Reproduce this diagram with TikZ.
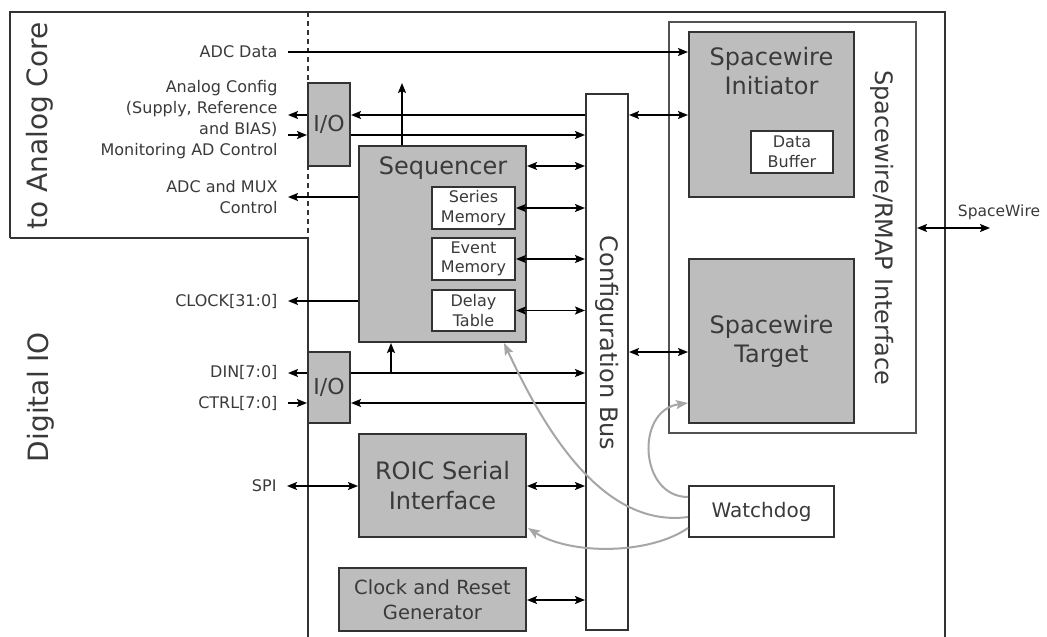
\documentclass[tikz,border=0pt]{standalone}
\usepackage{fontspec}
\setmainfont{DejaVu Sans}
\usetikzlibrary{arrows.meta}
\newcommand\myfs[2]{\fontsize{#1}{#2}\selectfont}
\definecolor{txt}{HTML}{3A3A3A}
\definecolor{bord}{HTML}{333333}
\definecolor{boxfill}{HTML}{BDBDBD}
\definecolor{curve}{HTML}{A6A6A6}
\begin{document}
\begin{tikzpicture}[x=1pt,y=-1pt,
  every node/.style={text=txt},
  blk/.style={draw=bord,line width=2pt,fill=boxfill,inner sep=0pt,align=center},
  wblk/.style={draw=bord,line width=2pt,fill=white,inner sep=0pt,align=center},
  arr/.style={line width=1.7pt,-{Stealth[length=10pt,width=8pt,inset=2pt]}},
  dbl/.style={line width=1.7pt,{Stealth[length=10pt,width=8pt,inset=2pt]}-{Stealth[length=10pt,width=8pt,inset=2pt]}},
  garr/.style={draw=curve,line width=2pt,-{Stealth[length=12pt,width=9pt,inset=2.5pt]}},
  lbl/.style={anchor=east,align=right,font=\myfs{16}{21}},
]
\useasboundingbox (0,0) rectangle (1047,637);
% frame
\draw[line width=2pt,bord] (10,238) -- (10,12) coordinate (tl) -- (945,12) -- (945,637);
\draw[line width=2pt,bord] (10,238) -- (308,238) coordinate (jn) -- (308,637);
\draw[line width=2pt,bord,dash pattern=on 5pt off 4pt] (308,12) -- (jn);
\node[rotate=90,font=\myfs{28}{32}] (tac) at (40,126) {to Analog Core};
\node[rotate=90,font=\myfs{28}{32}] (dio) at (41,397) {Digital IO};

% blocks
\node[blk,minimum width=42pt,minimum height=83pt,font=\myfs{22}{24}] (iotop) at (329,124.5) {I/O};
\node[blk,minimum width=42pt,minimum height=71pt,font=\myfs{22}{24}] (iobot) at (329,387.5) {I/O};
\node[blk,minimum width=167pt,minimum height=196pt] (seq) at (442.5,244) {};
\node[font=\myfs{24}{28}] (seqlbl) at (443,168) {Sequencer};
\node[wblk,minimum width=83pt,minimum height=42pt,font=\myfs{16}{19.5}] (sermem) at (473.5,208) {Series\\Memory};
\node[wblk,minimum width=83pt,minimum height=42pt,font=\myfs{16}{19.5}] (evmem) at (473.5,259) {Event\\Memory};
\node[wblk,minimum width=83pt,minimum height=41pt,font=\myfs{16}{19.5}] (delay) at (473.5,310.5) {Delay\\Table};
\node[blk,minimum width=167pt,minimum height=103pt,font=\myfs{24}{30}] (roic) at (442.5,485.5) {ROIC Serial\\Interface};
\node[blk,minimum width=187pt,minimum height=63pt,font=\myfs{19.5}{25}] (clk) at (432.5,599.5) {Clock and Reset\\Generator};
\node[wblk,minimum width=42pt,minimum height=536pt] (bus) at (607,362) {};
\node[rotate=-90,font=\myfs{24}{28}] (buslbl) at (607,343) {Configuration Bus};
\node[draw=bord!85,line width=2pt,fill=white,minimum width=247pt,minimum height=411pt] (rmap) at (792.5,227.5) {};
\node[rotate=-90,font=\myfs{24}{28}] (rmaplbl) at (882,228) {Spacewire/RMAP Interface};
\node[blk,minimum width=165pt,minimum height=165pt] (init) at (771.5,114.5) {};
\node[font=\myfs{24}{28.5},align=center] (initlbl) at (771.5,71) {Spacewire\\Initiator};
\node[wblk,minimum width=82pt,minimum height=42pt,font=\myfs{16}{19.5}] (dbuf) at (792,152) {Data\\Buffer};
\node[blk,minimum width=165pt,minimum height=164pt,font=\myfs{24}{29}] (target) at (771.5,341) {Spacewire\\Target};
\node[wblk,minimum width=145pt,minimum height=51pt,font=\myfs{20}{24}] (wd) at (761.5,511.5) {Watchdog};

% left labels
\node[lbl] (lADC) at (281,52) {ADC Data};
\node[lbl] (lAC) at (281,120) {Analog Config\\(Supply, Reference\\and BIAS)\\Monitoring AD Control};
\node[lbl] (lMUX) at (281,197) {ADC and MUX\\Control};
\node[lbl] (lCLK) at (281,301) {CLOCK[31:0]};
\node[lbl] (lDIN) at (281,372) {DIN[7:0]};
\node[lbl] (lCTRL) at (281,403) {CTRL[7:0]};
\node[lbl] (lSPI) at (280,486) {SPI};
\node[font=\myfs{15.5}{18}] (lSW) at (999,212) {SpaceWire};

% level coordinates
\coordinate (y52) at (288,52);
\coordinate (y115) at (288,115);
\coordinate (y135) at (288,135);
\coordinate (y166) at (0,166);
\coordinate (y197) at (288,197);
\coordinate (y301) at (288,301);
\coordinate (y352) at (0,352);
\coordinate (y373) at (288,373);
\coordinate (y403) at (288,403);
\coordinate (y486) at (287,486);
\coordinate (y600) at (0,600);
\coordinate (sup) at (402,83);
\coordinate (dinj) at (391,373);
\coordinate (swR) at (990,228);

% connectors
\draw[arr] (y52) -- (y52 -| init.west);
\draw[arr] (y115 -| bus.west) -- (y115 -| iotop.east);
\draw[arr] (y115 -| iotop.west) -- (y115);
\draw[arr] (y135 -| iotop.east) -- (y135 -| bus.west);
\draw[arr] (y135) -- (y135 -| iotop.west);
\draw[dbl] (y115 -| bus.east) -- (y115 -| init.west);
\draw[arr] (sup |- seq.north) -- (sup);
\draw[dbl] (y166 -| seq.east) -- (y166 -| bus.west);
\draw[dbl] (sermem.east) -- (sermem.east -| bus.west);
\draw[dbl] (evmem.east) -- (evmem.east -| bus.west);
\draw[dbl] (delay.east) -- (delay.east -| bus.west);
\draw[arr] (y197 -| seq.west) -- (y197);
\draw[arr] (y301 -| seq.west) -- (y301);
\draw[arr] (y373 -| iobot.east) -- (y373 -| bus.west);
\draw[arr] (dinj) -- (dinj |- seq.south);
\draw[arr] (y373 -| iobot.west) -- (y373);
\draw[arr] (y403 -| bus.west) -- (y403 -| iobot.east);
\draw[arr] (y403) -- (y403 -| iobot.west);
\draw[dbl] (y352 -| bus.east) -- (y352 -| target.west);
\draw[dbl] (y486) -- (y486 -| roic.west);
\draw[dbl] (y486 -| roic.east) -- (y486 -| bus.west);
\draw[dbl] (y600 -| clk.east) -- (y600 -| bus.west);
\draw[dbl] (swR -| rmap.east) -- (swR);

% watchdog curves
\draw[garr] ([yshift=14.5pt]wd.west) .. controls +(-49,0) and (635,410) .. ([yshift=-62pt]target.west);
\draw[garr] ([yshift=-5.5pt]wd.west) .. controls +(-89,12) and (540,420) .. ([xshift=-23pt]seq.south east);
\draw[garr] ([yshift=-16.5pt]wd.west) .. controls +(-39,27) and (570,555) .. ([yshift=-42.5pt,xshift=1pt]roic.east);
\end{tikzpicture}
\end{document}
